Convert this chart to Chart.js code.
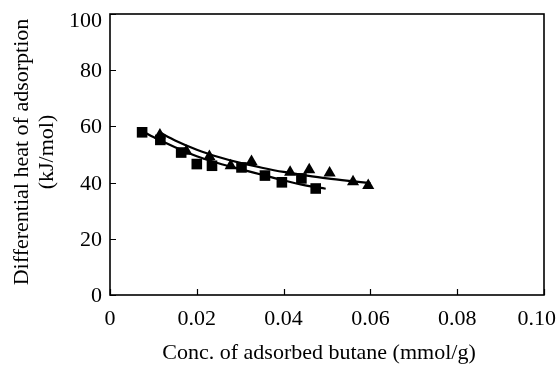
<!DOCTYPE html>
<html>
<head>
<meta charset="utf-8">
<script src="https://cdn.jsdelivr.net/npm/chart.js@4"></script>
<style>
  html, body { margin: 0; padding: 0; background: #fff; }
  #wrap { width: 558px; height: 365px; }
</style>
</head>
<body>
<div id="wrap"><canvas id="c" width="558" height="365"></canvas></div>
<script>
// Measured differential heats, square series
const squareConc = [0.0074, 0.0116, 0.0164, 0.0200, 0.0235, 0.0303, 0.0357, 0.0396, 0.0441, 0.0474];
const squareHeat = [57.9, 55.2, 50.7, 46.6, 46.0, 45.4, 42.5, 40.1, 41.5, 37.9];

// Measured differential heats, triangle series
const triangleConc = [0.0115, 0.0176, 0.0229, 0.0278, 0.0326, 0.0415, 0.0459, 0.0506, 0.0560, 0.0595];
const triangleHeat = [56.9, 51.2, 49.3, 46.0, 47.5, 43.7, 44.6, 43.4, 40.3, 39.0];

// Trend curves drawn through each series
const squareTrendConc = [0.0075, 0.010, 0.015, 0.020, 0.025, 0.030, 0.035, 0.040, 0.045, 0.0497];
const squareTrendHeat = [58.3, 56.2, 52.6, 49.4, 46.9, 44.8, 42.8, 40.8, 39.0, 37.8];
const triangleTrendConc = [0.0115, 0.015, 0.020, 0.025, 0.030, 0.035, 0.040, 0.045, 0.050, 0.055, 0.060];
const triangleTrendHeat = [57.8, 55.0, 51.7, 49.1, 47.0, 45.3, 43.8, 42.6, 41.5, 40.6, 39.8];

// Axis ticks and titles
const xTicks = [0, 0.02, 0.04, 0.06, 0.08, 0.10];
const xTickLabels = ['0', '0.02', '0.04', '0.06', '0.08', '0.10'];
const yTicks = [0, 20, 40, 60, 80, 100];
const yTickLabels = ['0', '20', '40', '60', '80', '100'];
const xTitle = 'Conc. of adsorbed butane (mmol/g)';
const yTitle = ['Differential heat of adsorption', '(kJ/mol)'];

const pts = (xs, ys) => xs.map((x, i) => ({ x: x, y: ys[i] }));
const SERIF = '"Liberation Serif", "Times New Roman", serif';

// Frame, inward tick marks, tick labels and axis titles
const framePlugin = {
  id: 'frame',
  afterDraw(chart) {
    const { ctx, chartArea: a, scales, width } = chart;
    ctx.save();
    ctx.strokeStyle = '#000';
    ctx.lineWidth = 1.6;
    ctx.strokeRect(a.left, a.top, a.right - a.left, a.bottom - a.top);
    ctx.lineWidth = 1.2;
    ctx.beginPath();
    xTicks.forEach(v => {
      const px = Math.round(scales.x.getPixelForValue(v)) + 0.5;
      ctx.moveTo(px, a.bottom);
      ctx.lineTo(px, a.bottom - 6);
    });
    yTicks.forEach(v => {
      const py = Math.round(scales.y.getPixelForValue(v)) + 0.5;
      ctx.moveTo(a.left, py);
      ctx.lineTo(a.left + 6, py);
    });
    ctx.stroke();

    ctx.fillStyle = '#000';
    ctx.font = '22px ' + SERIF;
    ctx.textBaseline = 'alphabetic';

    // x tick labels, kept inside the canvas at the right edge
    ctx.textAlign = 'center';
    xTicks.forEach((v, i) => {
      const label = xTickLabels[i];
      const w = ctx.measureText(label).width;
      let px = scales.x.getPixelForValue(v);
      px = Math.min(px, width - 2 - w / 2);
      ctx.fillText(label, px, a.bottom + 30);
    });

    // y tick labels, kept below the top edge
    ctx.textAlign = 'right';
    yTicks.forEach((v, i) => {
      let py = scales.y.getPixelForValue(v);
      py = Math.max(py, 20);
      ctx.fillText(yTickLabels[i], a.left - 8, py + 7);
    });

    ctx.font = '22px ' + SERIF;
    ctx.textAlign = 'center';
    ctx.fillText(xTitle, 319, 359);

    const cy = 152;
    ctx.save();
    ctx.translate(28, cy);
    ctx.rotate(-Math.PI / 2);
    ctx.fillText(yTitle[0], 0, 0);
    ctx.restore();
    ctx.save();
    ctx.translate(53, cy);
    ctx.rotate(-Math.PI / 2);
    ctx.fillText(yTitle[1], 0, 0);
    ctx.restore();
    ctx.restore();
  }
};

new Chart(document.getElementById('c'), {
  type: 'scatter',
  data: {
    datasets: [
      {
        label: 'squares',
        data: pts(squareConc, squareHeat),
        pointStyle: 'rect',
        pointRadius: 7.5,
        backgroundColor: '#000',
        borderColor: '#000',
        borderWidth: 0
      },
      {
        label: 'triangles',
        data: pts(triangleConc, triangleHeat),
        pointStyle: 'triangle',
        pointRadius: 7,
        backgroundColor: '#000',
        borderColor: '#000',
        borderWidth: 0
      },
      {
        label: 'squares trend',
        data: pts(squareTrendConc, squareTrendHeat),
        showLine: true,
        cubicInterpolationMode: 'monotone',
        pointRadius: 0,
        borderColor: '#000',
        borderWidth: 2.2
      },
      {
        label: 'triangles trend',
        data: pts(triangleTrendConc, triangleTrendHeat),
        showLine: true,
        cubicInterpolationMode: 'monotone',
        pointRadius: 0,
        borderColor: '#000',
        borderWidth: 2.2
      }
    ]
  },
  options: {
    responsive: false,
    animation: false,
    devicePixelRatio: 1,
    layout: { padding: { top: 14, right: 14, left: 0, bottom: 0 } },
    plugins: { legend: { display: false }, tooltip: { enabled: false } },
    scales: {
      x: {
        type: 'linear',
        min: 0,
        max: 0.10,
        afterFit(scale) {
          scale.height = 70;
          scale.paddingLeft = 0;
          scale.paddingRight = 0;
        },
        afterBuildTicks(scale) { scale.ticks = xTicks.map(v => ({ value: v })); },
        grid: { display: false },
        border: { display: false },
        ticks: { display: false }
      },
      y: {
        type: 'linear',
        min: 0,
        max: 100,
        afterFit(scale) {
          scale.width = 110;
          scale.paddingTop = 0;
          scale.paddingBottom = 0;
        },
        afterBuildTicks(scale) { scale.ticks = yTicks.map(v => ({ value: v })); },
        grid: { display: false },
        border: { display: false },
        ticks: { display: false }
      }
    }
  },
  plugins: [framePlugin]
});
</script>
</body>
</html>
